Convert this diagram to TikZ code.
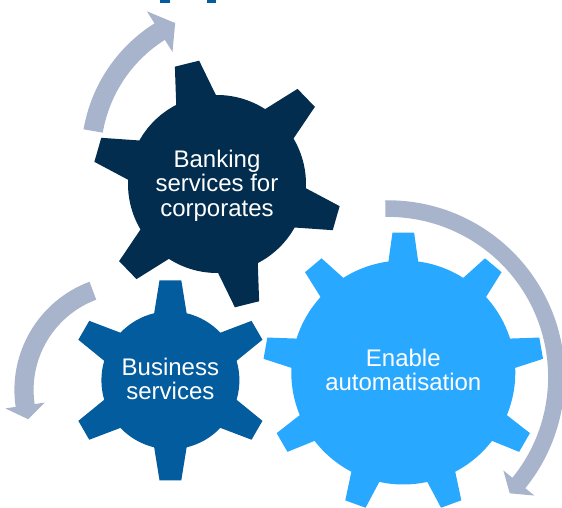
\documentclass[tikz,border=0pt]{standalone}
\usepackage{fontspec}
\setmainfont{Liberation Sans}
\usetikzlibrary{positioning}
\definecolor{gearNavy}{HTML}{022D4E}
\definecolor{gearMid}{HTML}{035C9E}
\definecolor{gearSky}{HTML}{29A8FF}
\definecolor{turnGrey}{HTML}{A8B4CB}
\tikzset{
  gearLabel/.style={text=white, align=center, inner sep=0pt,
                    font=\fontsize{24}{24.5}\selectfont},
  turnArrow/.style={fill=turnGrey},
  titleBit/.style={fill=gearMid}
}

% gear outline: #1 centre, #2 fill, #3 teeth, #4 body radius, #5 tip radius,
% #6 half width at base, #7 half width at tip, #8 angle of first tooth
\newcommand{\gearshape}[8]{%
  \pgfmathsetmacro{\gstep}{360/#3}%
  \pgfmathsetmacro{\gbase}{atan(#6/#4)}%
  \pgfmathsetmacro{\gtip}{atan(#7/#5)}%
  \pgfmathsetmacro{\gtipr}{veclen(#5,#7)}%
  \fill[#2, shift={(#1)}] ({#8-\gbase}:#4)
    \foreach \k in {1,...,#3} {
      -- ({#8+(\k-1)*\gstep-\gtip}:\gtipr)
      -- ({#8+(\k-1)*\gstep+\gtip}:\gtipr)
      -- ({#8+(\k-1)*\gstep+\gbase}:#4)
      arc[start angle={#8+(\k-1)*\gstep+\gbase},
          end angle={#8+\k*\gstep-\gbase}, radius=#4]
    } -- cycle;
}

% curved arrow: #1 centre, #2 radius, #3 start angle, #4 end of shaft,
% #5 tip angle, #6 half shaft width, #7 half head width
\newcommand{\turnarrow}[7]{%
  \fill[turnArrow, shift={(#1)}] (#3:{#2+#6})
    arc[start angle=#3, end angle=#4, radius={#2+#6}]
    -- (#4:{#2+#7}) -- (#5:#2) -- (#4:{#2-#7}) -- (#4:{#2-#6})
    arc[start angle=#4, end angle=#3, radius={#2-#6}] -- cycle;
}

\begin{document}
\begin{tikzpicture}[x=1pt, y=1pt]
\useasboundingbox (0,0) rectangle (562,508);

% ------------------------------------------------------------
% remains of the heading at the top edge
% ------------------------------------------------------------
\fill[titleBit] (160,505) rectangle (170,508);
\fill[titleBit] (207,505) rectangle (216,508);

% ------------------------------------------------------------
% GEARS
% ------------------------------------------------------------
\gearshape{217,324}{gearNavy}{6}{89}{124}{21}{12.5}{104}
\gearshape{170.4,127.7}{gearMid}{6}{69}{100}{16.7}{10.9}{90}
\gearshape{403.3,135.5}{gearSky}{9}{112}{140}{15}{10.8}{90}

\node[gearLabel] (banking) at (217,322.5) {Banking\\services for\\corporates};
\node[gearLabel] (business) at (170.4,129) {Business\\services};
\node[gearLabel] (automation) at (403.3,138) {Enable\\automatisation};

% ------------------------------------------------------------
% rotation arrows round the gears
% ------------------------------------------------------------
\turnarrow{238,352}{147}{170.2}{122.2}{115.3}{9.75}{24}
\turnarrow{130,118}{106}{110.5}{188.4}{196}{9.6}{20}
\turnarrow{388,131}{168.4}{90.9}{-39}{-43.7}{8.3}{20}

\end{tikzpicture}
\end{document}
